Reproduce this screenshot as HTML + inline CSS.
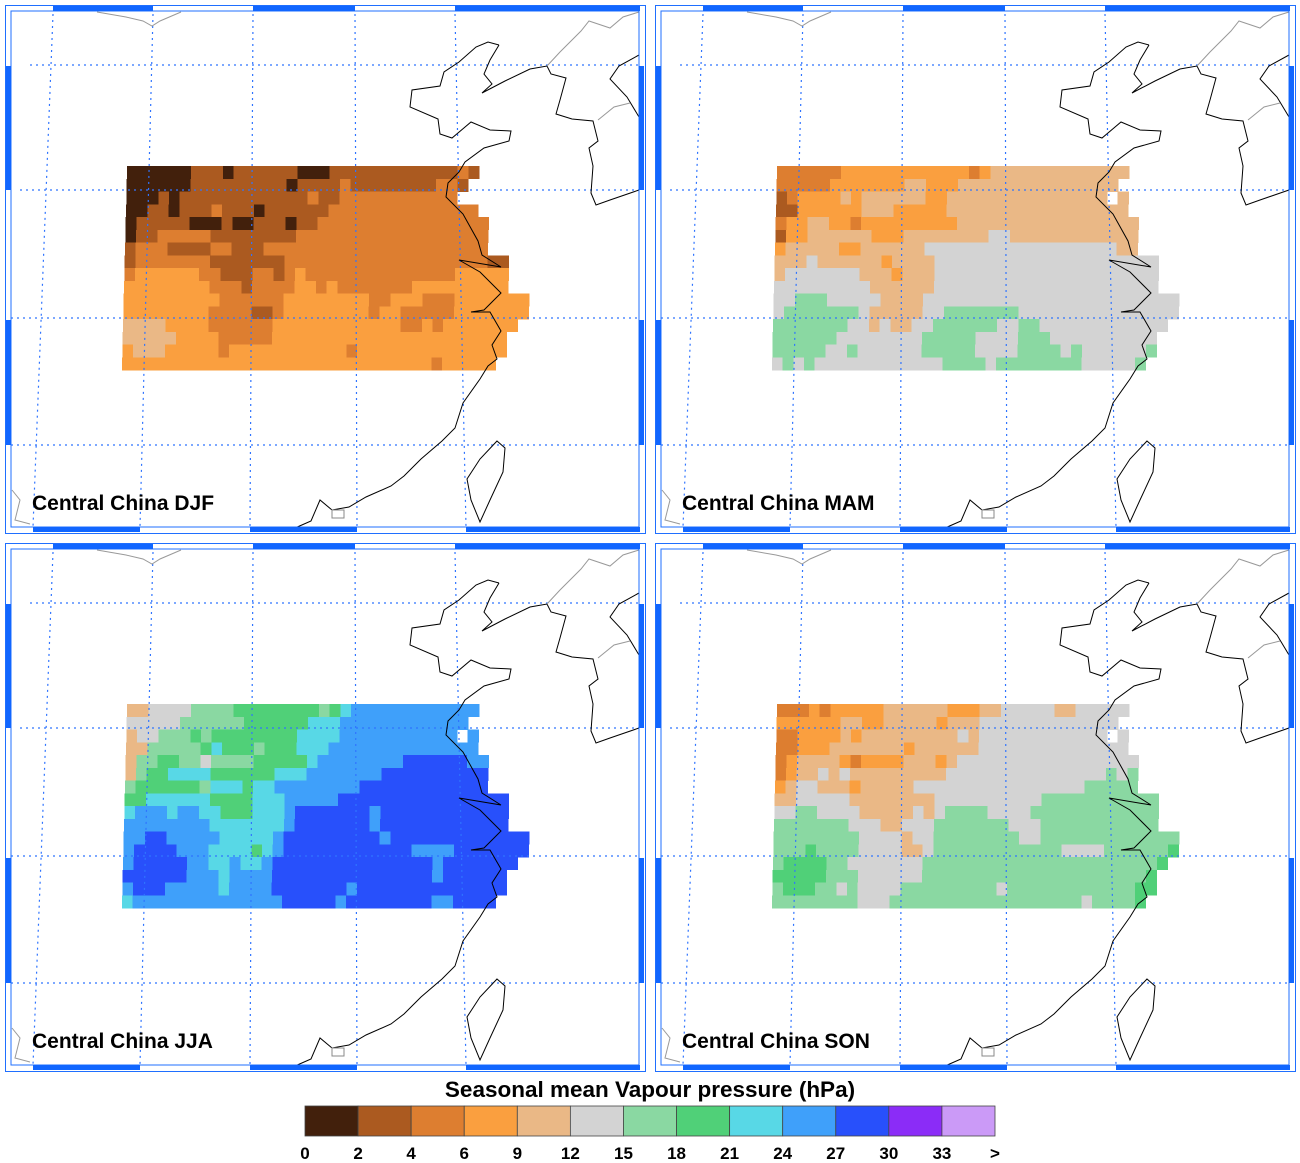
<!DOCTYPE html>
<html><head><meta charset="utf-8"><style>
html,body{margin:0;padding:0;background:#fff;}
svg{display:block;}
text{font-family:"Liberation Sans",Arial,sans-serif;font-weight:bold;}
</style></head><body>
<svg id="s" width="1300" height="1163" viewBox="0 0 1300 1163" xmlns="http://www.w3.org/2000/svg">
<defs>
<g id="frame">
  <rect x="5.5" y="5.5" width="640" height="528" fill="none" stroke="#1f6fff" stroke-width="1"/>
  <rect x="11" y="11" width="628" height="516" fill="none" stroke="#1f6fff" stroke-width="1"/>
  <g fill="#1166ff">
    <rect x="53" y="6" width="100" height="5"/><rect x="253" y="6" width="102" height="5"/><rect x="455" y="6" width="185" height="5"/>
    <rect x="33" y="527" width="107" height="5"/><rect x="250" y="527" width="107" height="5"/><rect x="466" y="527" width="174" height="5"/>
    <rect x="6" y="66" width="5" height="124"/><rect x="6" y="320" width="5" height="125"/>
    <rect x="639" y="66" width="5" height="124"/><rect x="639" y="320" width="5" height="125"/>
  </g>
</g>
<g id="grid" stroke="#2f74ff" stroke-width="1.2" stroke-dasharray="2,4" fill="none">
  <line x1="30" y1="65" x2="639" y2="65"/>
  <line x1="20" y1="190" x2="639" y2="190"/>
  <line x1="11" y1="318" x2="639" y2="318"/>
  <line x1="11" y1="445" x2="639" y2="445"/>
  <line x1="53" y1="14" x2="33" y2="527"/>
  <line x1="153" y1="14" x2="140" y2="527"/>
  <line x1="253" y1="14" x2="250" y2="527"/>
  <line x1="355" y1="14" x2="357" y2="527"/>
  <line x1="455" y1="14" x2="466" y2="527"/>
</g>
<g id="coast" fill="none" stroke-width="1">
  <path stroke="#000" d="M499,45 L488,42 476,47 459,62 444,72 440,86 412,90 410,107 438,119 440,134 452,138 471,122 490,130 511,131 509,141 484,148 465,162 459,172 448,183 446,197 463,214 478,241 482,255 501,267 459,260 480,272 501,293 484,310 471,312 490,312 501,331 492,345 497,359 488,366 480,379 463,403 455,428 442,441 421,459 404,476 391,486 366,497 349,507 332,510 320,500 311,521 295,528"/>
  <path stroke="#000" d="M499,45 L490,60 484,74 492,84 482,93 505,81 530,69 547,66 551,74 566,78 560,100 556,114 572,119 593,121 598,141 589,148 593,166 591,193 596,205 610,200 639,190"/>
  <path stroke="#000" d="M639,55 L619,66 610,79 627,97 639,117"/>
  <path stroke="#000" d="M497,441 L505,448 503,472 490,500 480,522 471,500 467,479 480,459 Z"/>
  <rect x="332" y="510" width="12" height="8" stroke="#888"/>
  <path stroke="#999" d="M547,66 L560,52 581,31 589,21 610,28 623,17 639,12"/>
  <path stroke="#999" d="M598,120 L614,107 630,103"/>
  <path stroke="#999" d="M97,12 L126,17 143,21 152,26 160,21 181,12"/>
  <path stroke="#999" d="M12,490 L20,500 15,520 30,524"/>
</g>
</defs>
<g id="panels"></g>
<text x="650" y="1097" font-size="22.5" text-anchor="middle">Seasonal mean Vapour pressure (hPa)</text>
<g id="cbar"></g>
</svg>
<script>
var C={a:'#42200c',b:'#ab5a20',c:'#dd7e30',d:'#fa9f3f',e:'#eab886',f:'#d3d3d3',g:'#8ad8a2',h:'#50d078',i:'#58d8e6',j:'#3fa0fa',k:'#2850fb',l:'#8b2cf7',m:'#cb9af7'};
function R(s){var o='';s.split(' ').forEach(function(t){var ch=t[0],n=parseInt(t.slice(1));for(var i=0;i<n;i++)o+=ch;});return o;}
var P=[
[ // DJF
R('a6 b3 a1 b6 a3 b12 c1 b1'),
R('a6 b9 a1 b4 c1 b8 c2 b1'),
R('a3 b1 a1 b12 c1 b2 c11'),
R('a2 b2 a1 b3 c1 b3 a1 b6 c14'),
R('a1 b5 a3 b1 a2 b3 a1 b2 c16'),
R('a1 b2 c5 b8 c18'),
R('b1 c3 b4 c2 b3 c21'),
R('b1 c7 b7 c19 b2'),
R('c1 d6 c2 b3 c2 b1 c1 d1 c14 d5'),
R('d8 c3 b1 c4 d2 c1 d1 c7 d9'),
R('d9 c6 d8 c2 d3 c3 d7'),
R('d8 c4 b2 c1 d8 c1 d2 c5 d7'),
R('e4 d4 c6 d12 c2 d1 c1 d7'),
R('e5 d4 c5 d22'),
R('d1 e3 d5 c1 d11 c1 d14'),
R('d29 c1 d5')
],
[ // MAM
R('c6 d12 c1 d1 e13'),
R('c5 d7 e2 d3 e15'),
R('b1 c1 d4 e1 d1 e6 d2 e15 .1 e1'),
R('b2 d6 e3 d5 e17'),
R('c1 d2 e2 d2 c1 d9 e17'),
R('b1 d2 e6 d3 e8 f2 e12'),
R('d1 e5 d2 e6 f18 e2'),
R('e3 f1 e6 d1 e4 f21'),
R('e1 f7 e3 d1 e3 f21'),
R('f9 e6 f21'),
R('f2 g3 f5 e4 f24'),
R('f1 g7 f1 e5 f2 g7 f15'),
R('g7 f2 e1 f1 e2 f2 g6 f2 g2 f12'),
R('g6 f8 g5 f4 g3 f10'),
R('g5 f2 g1 f6 g5 f4 g4 f1 g1 f6 g1'),
R('f1 g1 f1 g1 f12 g4 f1 g8 f5 g1')
],
[ // JJA
R('e2 f4 g4 h8 g1 h1 i1 j12'),
R('f5 g6 h6 i3 j12'),
R('e1 f2 g3 h1 g1 h8 i4 j11 .1 j1'),
R('e2 g5 h1 i1 h3 g1 h3 i3 j14'),
R('e1 g2 h2 g2 f1 g4 h5 i1 j8 k6 j2'),
R('e1 g1 h2 i4 h6 i3 j7 k10'),
R('g1 h6 g1 i3 h1 i2 j8 k12'),
R('h2 i6 h4 i3 j5 k16'),
R('i1 j3 i1 j2 i2 h3 i3 j1 k7 j1 k12'),
R('j8 i7 j1 k7 j1 k12'),
R('j2 k2 j5 i5 j1 k9 j1 k13'),
R('j1 k4 j3 i4 h1 i1 j1 k12 j4 k7'),
R('j1 k5 j2 i2 j1 i2 j1 k15 j1 k7'),
R('k6 j3 i1 j4 k15 j1 k6'),
R('j1 k3 j5 i1 j4 k7 j1 k14'),
R('i1 j14 k5 j1 k8 j2 k4')
],
[ // SON
R('c3 d1 c1 d5 e6 d3 e2 f5 e2 f5'),
R('d6 e2 d2 e5 d1 e3 f13'),
R('c2 d4 e1 d1 e9 f1 e1 f12 .1 f1'),
R('c2 d3 e7 d1 e6 f14'),
R('c1 d1 e4 d1 c1 d4 e3 d1 e1 f17'),
R('c1 d1 e2 f1 e1 f1 e9 f15 g1 f1 g1'),
R('d1 e1 f2 e3 d1 e5 f16 g5'),
R('e2 f5 e8 f10 g11'),
R('f2 g2 f4 e5 f1 e1 f1 g4 f4 g12'),
R('g7 f3 e2 f3 g7 f3 g11'),
R('g8 f4 e1 f2 g8 f2 g13'),
R('g3 h1 g4 f4 e2 f1 g12 f4 g6 h1'),
R('g1 h4 g2 f7 g22 h1'),
R('h5 g3 f6 g21 h1'),
R('g1 h3 g2 f1 g1 f4 g9 f1 g12 h2'),
R('g8 f3 g18 f1 g4 h1')
]];
var titles=['Central China DJF','Central China MAM','Central China JJA','Central China SON'];
var offs=[[0,0],[650,0],[0,538],[650,538]];
var NS='http://www.w3.org/2000/svg';
var root=document.getElementById('panels');
function el(n,a,p){var e=document.createElementNS(NS,n);for(var k in a)e.setAttribute(k,a[k]);(p||root).appendChild(e);return e;}
var cw=10.67,rh=12.75;
for(var p=0;p<4;p++){
  var g=el('g',{transform:'translate('+offs[p][0]+','+offs[p][1]+')'});
  var dg=el('g',{'shape-rendering':'crispEdges'},g);
  P[p].forEach(function(row,r){
    var sx=122+(15-r)*0.33, y=166+r*rh;
    for(var c=0;c<row.length;c++){
      var ch=row[c]; if(ch=='.')continue;
      var n=1; while(c+n<row.length&&row[c+n]==ch)n++;
      el('rect',{x:(sx+c*cw).toFixed(2),y:y.toFixed(2),width:(n*cw+0.4).toFixed(2),height:(rh+0.4).toFixed(2),fill:C[ch]},dg);
      c+=n-1;
    }
  });
  el('use',{href:'#grid'},g);
  el('use',{href:'#coast'},g);
  el('use',{href:'#frame'},g);
  var t=el('text',{x:32,y:510,'font-size':21},g); t.textContent=titles[p];
}
var cb=document.getElementById('cbar');
var keys='abcdefghijklm', labs=['0','2','4','6','9','12','15','18','21','24','27','30','33','>'];
var w=690/13;
for(var i=0;i<13;i++){el('rect',{x:(305+i*w).toFixed(2),y:1106,width:w.toFixed(2),height:30,fill:C[keys[i]],stroke:'#444','stroke-width':0.8},cb);}
for(var i=0;i<14;i++){var t=el('text',{x:(305+i*w).toFixed(2),y:1159,'font-size':17,'text-anchor':'middle'},cb);t.textContent=labs[i];}
</script>
</body></html>
